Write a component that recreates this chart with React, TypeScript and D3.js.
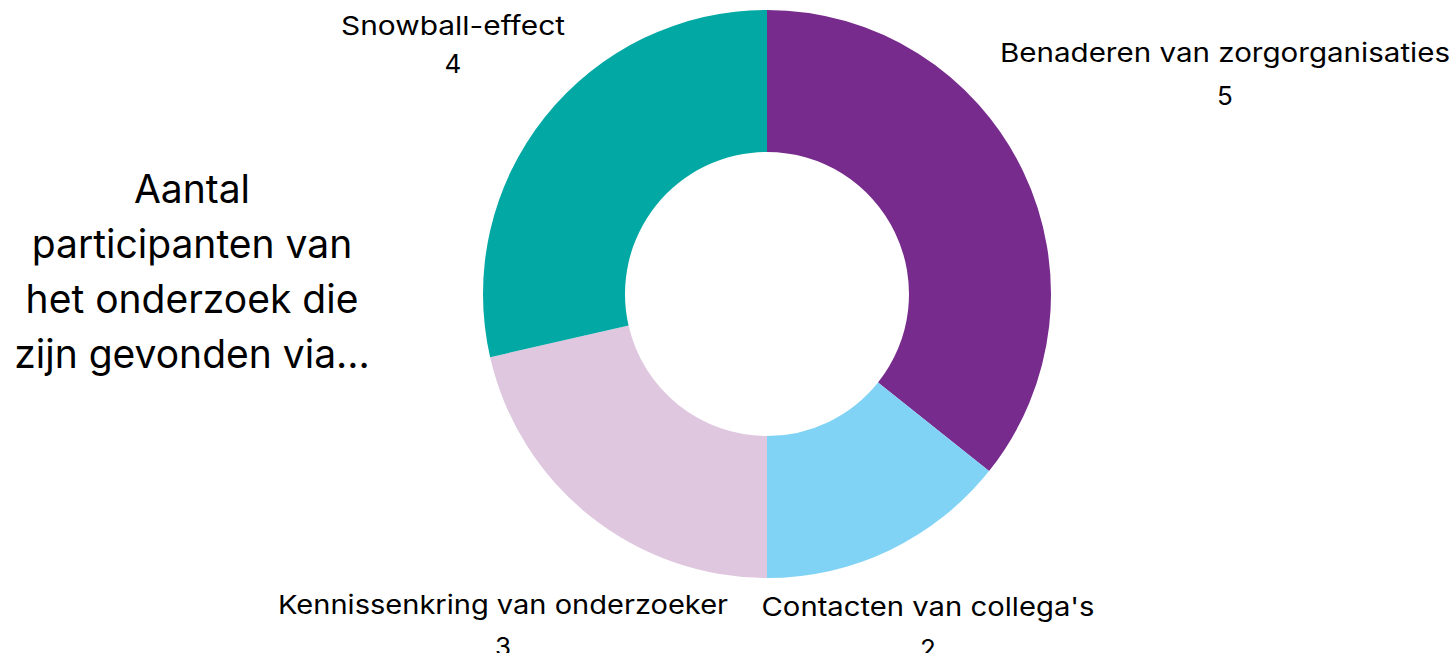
import React, { useEffect, useRef } from "react";
import * as d3 from "d3";

// data
const categories = [
  "Benaderen van zorgorganisaties",
  "Contacten van collega's",
  "Kennissenkring van onderzoeker",
  "Snowball-effect",
];
const counts = [5, 2, 3, 4];
const colors = ["#772B8C", "#81D3F6", "#DFC8DF", "#02A8A3"];
const titleLines = [
  "Aantal",
  "participanten van",
  "het onderzoek die",
  "zijn gevonden via...",
];

// label placement (center x, baseline y of name, text width, gap to value) per slice
const labelLayout = [
  { x: 1225, y: 62, w: 450, gap: 43 },
  { x: 928, y: 616, w: 333, gap: 42 },
  { x: 503, y: 614, w: 450, gap: 42 },
  { x: 453, y: 35, w: 224, gap: 38 },
];

const W = 1454;
const H = 653;

export default function App() {
  const ref = useRef<SVGSVGElement>(null);

  useEffect(() => {
    const svg = d3.select(ref.current);
    svg.selectAll("*").remove();

    const cx = 767;
    const cy = 294;
    const outerR = 284;

    const data = categories.map((c, i) => ({ name: c, value: counts[i] }));
    const pie = d3
      .pie<any>()
      .value((d) => d.value)
      .sort(null);
    const arc = d3
      .arc<any>()
      .innerRadius(outerR * 0.5)
      .outerRadius(outerR);

    const g = svg.append("g").attr("transform", `translate(${cx},${cy})`);
    g.selectAll("path")
      .data(pie(data))
      .join("path")
      .attr("d", arc)
      .attr("fill", (d, i) => colors[i]);

    // data labels
    const lbl = svg.append("g").attr("font-family", "Inter, 'DejaVu Sans', sans-serif").attr("fill", "#000");
    data.forEach((d, i) => {
      const p = labelLayout[i];
      lbl
        .append("text")
        .attr("x", p.x)
        .attr("y", p.y)
        .attr("text-anchor", "middle")
        .attr("font-size", 26)
        .attr("textLength", p.w)
        .attr("lengthAdjust", "spacingAndGlyphs")
        .text(d.name);
      lbl
        .append("text")
        .attr("x", p.x)
        .attr("y", p.y + p.gap)
        .attr("text-anchor", "middle")
        .attr("font-size", 26)
        .text(d.value);
    });

    // title
    const t = svg
      .append("text")
      .attr("font-family", "Inter, 'DejaVu Sans', sans-serif")
      .attr("font-size", 39)
      .attr("text-anchor", "middle")
      .attr("fill", "#000");
    titleLines.forEach((line, i) => {
      t.append("tspan").attr("x", 192).attr("y", 203 + i * 55).text(line);
    });
  }, []);

  return (
    <div style={{ position: "absolute", left: 0, top: 0 }}>
      <svg ref={ref} width={W} height={H} style={{ display: "block", background: "#fff" }}></svg>
    </div>
  );
}
